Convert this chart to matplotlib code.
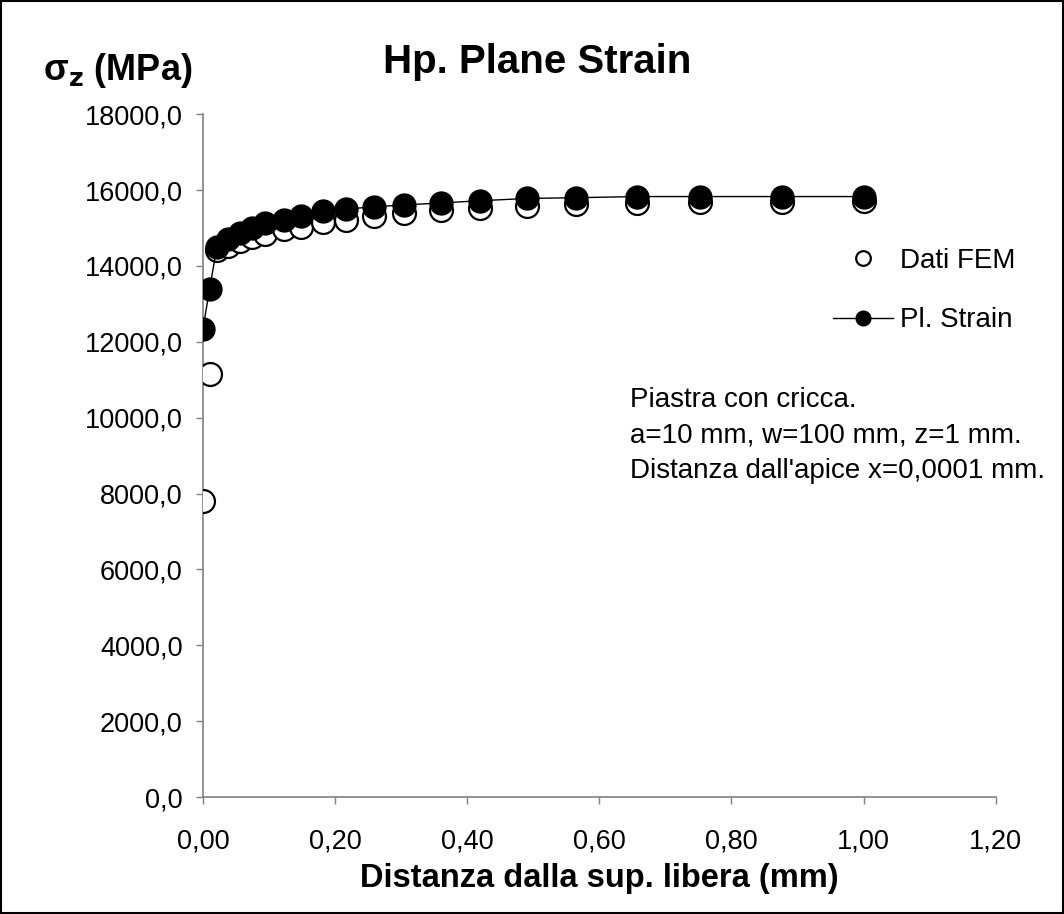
import matplotlib
matplotlib.use('Agg')
import matplotlib.pyplot as plt
from matplotlib.patches import Rectangle
from matplotlib.ticker import FuncFormatter

plt.rcParams['font.family'] = ['Liberation Sans', 'DejaVu Sans']

# distanza dalla superficie libera (mm)
dist = [0.0, 0.01, 0.021, 0.038, 0.056, 0.074, 0.094, 0.123, 0.148, 0.181, 0.216,
        0.259, 0.305, 0.360, 0.419, 0.491, 0.565, 0.657, 0.753, 0.876, 1.0]
# sigma_z dati FEM (MPa)
fem = [7800, 11150, 14420, 14530, 14660, 14770, 14830, 14980, 15030, 15160, 15200,
       15330, 15400, 15470, 15530, 15590, 15640, 15660, 15680, 15690, 15700]
# sigma_z plane strain (MPa)
pl_strain = [12350, 13400, 14500, 14700, 14880, 15010, 15140, 15220, 15330, 15440, 15500,
             15560, 15610, 15660, 15720, 15780, 15800, 15830, 15830, 15830, 15830]

x_ticks = [0.0, 0.2, 0.4, 0.6, 0.8, 1.0, 1.2]
y_ticks = list(range(0, 18001, 2000))

fig = plt.figure(figsize=(10.64, 9.14), dpi=100)
ax = fig.add_axes([0.1908, 0.128, 0.745, 0.747])

ax.plot(dist, fem, 'o', ms=16.5, mfc='white', mec='black', mew=1.6, label='Dati FEM', zorder=3)
ax.plot(dist, pl_strain, '-o', color='black', lw=1, ms=16.5, mfc='black', mec='black',
        label='Pl. Strain', zorder=4)

ax.set_xlim(0, 1.2)
ax.set_ylim(0, 18000)
ax.set_xticks(x_ticks)
ax.set_yticks(y_ticks)
ax.xaxis.set_major_formatter(FuncFormatter(lambda v, p: ('%.2f' % v).replace('.', ',')))
ax.yaxis.set_major_formatter(FuncFormatter(lambda v, p: ('%.1f' % v).replace('.', ',')))
ax.tick_params(axis='both', direction='out', length=5, width=1, color='#808080', labelsize=19.5)
ax.tick_params(axis='x', pad=18)
ax.tick_params(axis='y', pad=9.5)

for s in ['top', 'right']:
    ax.spines[s].set_visible(False)
for s in ['left', 'bottom']:
    ax.spines[s].set_color('#808080')
    ax.spines[s].set_linewidth(1.2)

ax.set_xlabel('Distanza dalla sup. libera (mm)', fontsize=23.5, fontweight='bold', labelpad=6)
ax.xaxis.set_label_coords(0.5, -0.097)

fig.text(0.505, 0.932, 'Hp. Plane Strain', fontsize=29, fontweight='bold', ha='center', va='center')
fig.text(0.040, 0.912, r'σ$_\mathbf{z}$ (MPa)', fontsize=26, fontweight='bold', ha='left', va='baseline')

leg = ax.legend(loc='center left', bbox_to_anchor=(0.783, 0.682), bbox_transform=fig.transFigure,
                frameon=False, fontsize=20, markerscale=0.64, handlelength=2.15,
                labelspacing=1.2, handletextpad=0.25, borderpad=0, borderaxespad=0)

fig.text(0.592, 0.577, 'Piastra con cricca.\na=10 mm, w=100 mm, z=1 mm.\nDistanza dall\'apice x=0,0001 mm.',
         fontsize=20, ha='left', va='top', linespacing=1.48)

fig.patches.append(Rectangle((0.001, 0.001), 0.998, 0.998, transform=fig.transFigure,
                             fill=False, edgecolor='black', linewidth=1.5))

fig.savefig('out.png', dpi=100)
